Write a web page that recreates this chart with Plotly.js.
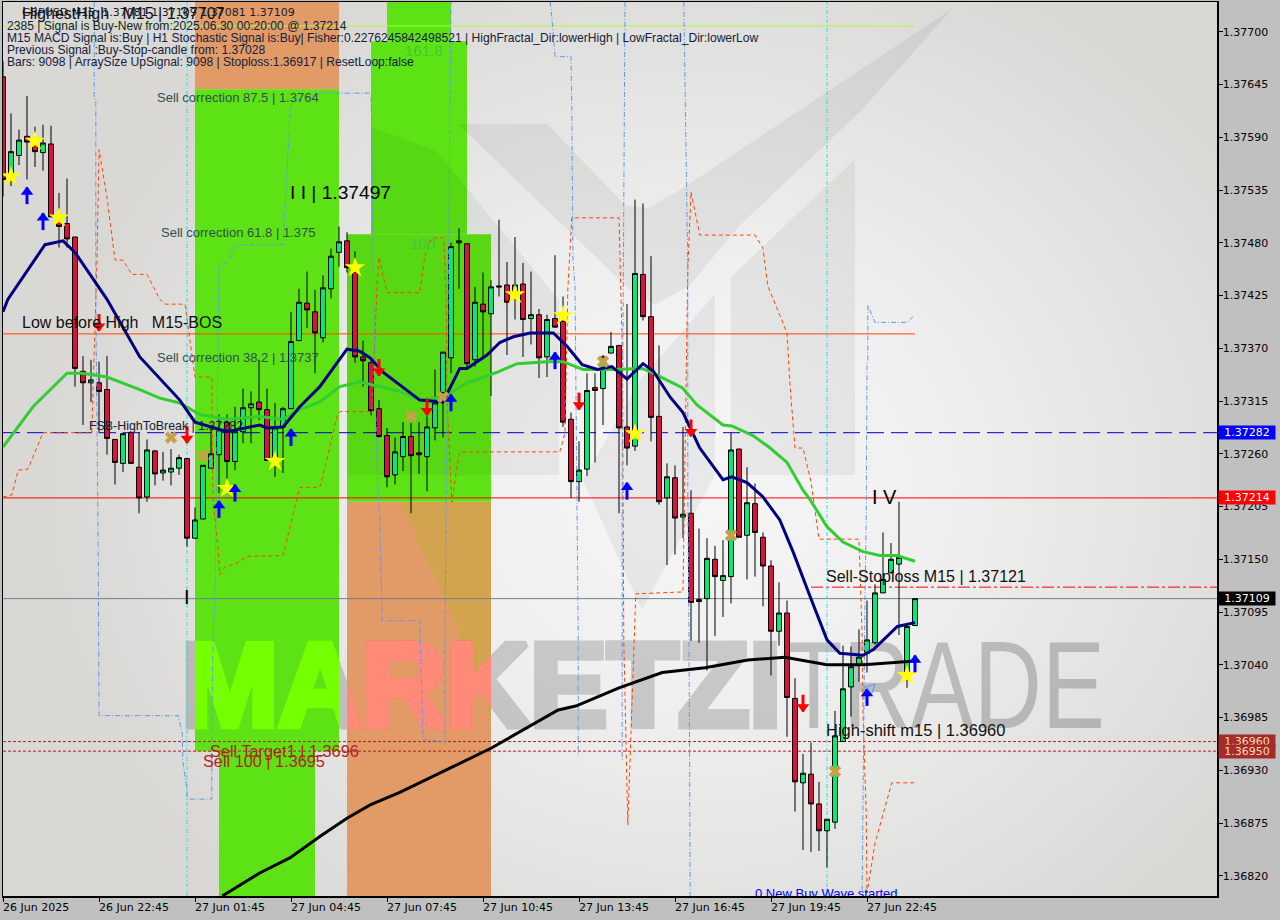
<!DOCTYPE html>
<html><head><meta charset="utf-8">
<script src="https://cdn.plot.ly/plotly-3.0.1.min.js"></script>
<style>
html,body{margin:0;padding:0;background:#C0C0C0;overflow:hidden}
#bg{position:absolute;left:3px;top:2px;width:1214px;height:894px;background:radial-gradient(ellipse 640px 560px at 690px 480px,#F6F6F6 0%,#EFEFEF 40%,#E2E2E0 75%,#D9D8D5 100%)}
#chart{position:absolute;left:0;top:0;width:1280px;height:920px}
</style></head><body><div id="bg"></div><div id="chart"></div>
<script>
// ---------- candles ----------
const open=[1.37653,1.37549,1.37571,1.37591,1.37582,1.37574,1.37583,1.37507,1.37500,1.37486,1.37346,1.37334,1.37334,1.37327,1.37275,1.37250,1.37282,1.37246,1.37215,1.37263,1.37240,1.37241,1.37245,1.37255,1.37172,1.37192,1.37245,1.37259,1.37293,1.37252,1.37283,1.37308,1.37314,1.37306,1.37257,1.37288,1.37307,1.37378,1.37417,1.37408,1.37381,1.37432,1.37470,1.37482,1.37449,1.37361,1.37355,1.37307,1.37279,1.37238,1.37257,1.37278,1.37261,1.37257,1.37287,1.37324,1.37360,1.37480,1.37479,1.37358,1.37416,1.37406,1.37435,1.37436,1.37426,1.37437,1.37401,1.37405,1.37361,1.37401,1.37398,1.37296,1.37231,1.37244,1.37329,1.37328,1.37365,1.37373,1.37288,1.37268,1.37447,1.37403,1.37299,1.37214,1.37235,1.37194,1.37198,1.37108,1.37109,1.37150,1.37128,1.37132,1.37265,1.37175,1.37208,1.37173,1.37143,1.37075,1.37094,1.37005,1.36917,1.36926,1.36895,1.36867,1.36876,1.36960,1.37017,1.37040,1.37052,1.37063,1.37115,1.37136,1.37145,1.37027,1.37081];
const high=[1.37669,1.37615,1.37598,1.37633,1.37601,1.37603,1.37602,1.37532,1.37547,1.37486,1.37362,1.37358,1.37356,1.37362,1.37275,1.37282,1.37282,1.37282,1.37275,1.37264,1.37262,1.37265,1.37259,1.37255,1.37204,1.37248,1.37285,1.37301,1.37301,1.37309,1.37328,1.37325,1.37358,1.37328,1.37313,1.37309,1.37408,1.37432,1.37450,1.37431,1.37446,1.37474,1.37497,1.37491,1.37471,1.37378,1.37358,1.37316,1.37287,1.37277,1.37293,1.37292,1.37293,1.37299,1.37348,1.37366,1.37480,1.37495,1.37479,1.37434,1.37449,1.37441,1.37504,1.37460,1.37486,1.37459,1.37450,1.37411,1.37405,1.37467,1.37424,1.37303,1.37273,1.37344,1.37344,1.37363,1.37387,1.37373,1.37416,1.37525,1.37521,1.37466,1.37373,1.37250,1.37248,1.37288,1.37222,1.37182,1.37172,1.37164,1.37170,1.37282,1.37265,1.37246,1.37229,1.37178,1.37149,1.37126,1.37107,1.37026,1.36947,1.36959,1.36918,1.36879,1.36992,1.37060,1.37059,1.37077,1.37107,1.37124,1.37178,1.37167,1.37210,1.37080,1.37109];
const low=[1.37528,1.37539,1.37561,1.37546,1.37559,1.37555,1.37507,1.37475,1.37475,1.37330,1.37290,1.37314,1.37282,1.37259,1.37228,1.37241,1.37250,1.37198,1.37210,1.37227,1.37232,1.37227,1.37238,1.37163,1.37172,1.37192,1.37245,1.37219,1.37233,1.37243,1.37271,1.37271,1.37295,1.37253,1.37236,1.37240,1.37307,1.37378,1.37391,1.37344,1.37376,1.37422,1.37455,1.37449,1.37355,1.37330,1.37300,1.37277,1.37225,1.37228,1.37242,1.37198,1.37239,1.37221,1.37274,1.37277,1.37344,1.37432,1.37348,1.37351,1.37360,1.37320,1.37424,1.37363,1.37400,1.37361,1.37374,1.37339,1.37340,1.37392,1.37288,1.37214,1.37210,1.37237,1.37251,1.37290,1.37365,1.37198,1.37248,1.37263,1.37399,1.37273,1.37207,1.37144,1.37155,1.37172,1.37065,1.37063,1.37034,1.37070,1.37090,1.37104,1.37173,1.37129,1.37132,1.37101,1.37029,1.37060,1.36965,1.36887,1.36847,1.36845,1.36846,1.36829,1.36869,1.36960,1.36986,1.37022,1.37032,1.37061,1.37115,1.37135,1.37071,1.37016,1.37081];
const close=[1.37546,1.37575,1.37587,1.37585,1.37575,1.37584,1.37507,1.37497,1.37484,1.37349,1.37334,1.37337,1.37325,1.37276,1.37251,1.37281,1.37250,1.37214,1.37264,1.37239,1.37243,1.37245,1.37256,1.37172,1.37191,1.37248,1.37260,1.37285,1.37252,1.37283,1.37308,1.37312,1.37306,1.37253,1.37287,1.37307,1.37377,1.37418,1.37410,1.37386,1.37433,1.37466,1.37481,1.37454,1.37361,1.37357,1.37305,1.37278,1.37236,1.37262,1.37278,1.37258,1.37259,1.37288,1.37313,1.37366,1.37476,1.37482,1.37354,1.37418,1.37408,1.37434,1.37434,1.37418,1.37436,1.37400,1.37405,1.37360,1.37400,1.37392,1.37293,1.37231,1.37243,1.37326,1.37326,1.37361,1.37372,1.37287,1.37266,1.37448,1.37403,1.37298,1.37210,1.37236,1.37193,1.37197,1.37105,1.37106,1.37151,1.37132,1.37133,1.37264,1.37173,1.37209,1.37178,1.37143,1.37075,1.37094,1.37006,1.36918,1.36927,1.36895,1.36867,1.36879,1.36966,1.37015,1.37038,1.37048,1.37066,1.37115,1.37129,1.37150,1.37152,1.37080,1.37109];
// ---------- moving averages ----------
const navyX=[0,0.6,5.25,7.5,9,13,17.1,22.1,24,28,32.1,33,35,37.1,39.6,43,44.6,45.9,47.5,49.6,52.1,55,57.1,58,60.5,62.1,63.8,65.9,68.8,70.5,72.4,74.3,76.1,78,80,81.3,83.4,85,87.1,90,91.1,93,95,97.1,98.8,100.9,103,104.6,107.5,108.8,111.8,114];
const navyY=[1.37408,1.37421,1.37478,1.37482,1.37470,1.37421,1.37361,1.37316,1.37293,1.37283,1.37290,1.37287,1.37288,1.37309,1.37330,1.37369,1.37367,1.37360,1.37345,1.37332,1.37316,1.37314,1.37349,1.37349,1.37363,1.37376,1.37382,1.37386,1.37386,1.37372,1.37353,1.37348,1.37351,1.37338,1.37354,1.37346,1.37319,1.37303,1.37266,1.37233,1.37236,1.37230,1.37215,1.37191,1.37157,1.37111,1.37066,1.37052,1.37050,1.37056,1.37080,1.37084];
const greenX=[0,3.75,8,10,13,17.1,19.6,22.1,24.6,28,32.1,35,37.1,39.6,42.1,44.6,49.6,52.1,55,58,61.75,64.25,68,70,72.5,76.25,79.9,81.25,84.9,86.75,90,91.1,93.75,95.9,98,100,100.9,103,105,107.5,109.6,111.75,114];
const greenY=[1.37267,1.37309,1.37344,1.37344,1.37340,1.37327,1.37318,1.37313,1.37301,1.37296,1.37299,1.37296,1.37306,1.37314,1.37330,1.37335,1.37325,1.37316,1.37319,1.37334,1.37345,1.37354,1.37356,1.37356,1.37348,1.37348,1.37349,1.37344,1.37329,1.37311,1.37290,1.37289,1.37279,1.37266,1.37251,1.37222,1.37212,1.37184,1.37168,1.37158,1.37154,1.37154,1.37148];
const blackX=[27.4,32.1,35.9,39.6,43,45.9,49.6,54.6,61,69.4,71.6,77,82.4,87.75,93.1,97.75,103,107.6,114];
const blackY=[1.36799,1.36823,1.36839,1.36861,1.36880,1.36894,1.36907,1.36927,1.36953,1.36993,1.36997,1.37016,1.37032,1.37037,1.37045,1.37048,1.37040,1.37040,1.37044];
// ---------- dashed envelopes ----------
const orangeX=[0,1.1,1.9,3.1,5,11.1,11.75,12,13,14,15,16.1,18,19.6,20.25,22.75,24,26.1,26.25,26.9,27.1,27.75,29.25,30.5,35,36.75,37.1,39.6,40.25,41.75,42.1,46.1,46.5,46.75,47,48,52.1,52.75,53.6,55.1,55.4,55.5,55.9,56.1,56.75,57.1,69.6,70.25,70.6,71.1,77,77.1,77.4,77.5,77.6,78.1,78.6,79.1,85,85.6,86,87.1,94,95,95.6,98,98.4,99,100,101,102,107,107.4,107.5,107.9,108,109,110.5,111.1,114];
const orangeY=[1.37215,1.37217,1.37243,1.37244,1.37282,1.37282,1.37462,1.37577,1.37527,1.37462,1.37462,1.37447,1.37447,1.37421,1.37416,1.37416,1.37340,1.37340,1.37212,1.37160,1.37134,1.37142,1.37146,1.37153,1.37154,1.37215,1.37225,1.37225,1.37246,1.37299,1.37304,1.37304,1.37386,1.37434,1.37465,1.37428,1.37428,1.37467,1.37485,1.37485,1.37421,1.37316,1.37246,1.37209,1.37246,1.37262,1.37262,1.37282,1.37431,1.37506,1.37506,1.37467,1.37372,1.37236,1.37066,1.36873,1.37003,1.37114,1.37116,1.37452,1.37533,1.37488,1.37488,1.37474,1.37435,1.37386,1.37329,1.37266,1.37266,1.37231,1.37171,1.37171,1.37069,1.36990,1.36886,1.36802,1.36854,1.36899,1.36917,1.36917];
const blueX=[11.4,11.4,11.6,11.6,11.9,12,12,21.9,22.4,22.5,23,23,26.1,26.1,26.25,26.5,26.9,27,28.1,29,35,35.5,35.9,36.1,39.6,46,46.1,46.25,46.75,47.1,47.4,52.1,52.5,55.25,55.25,55.4,55.75,56,null,68.4,68.6,69,71,71.1,71.25,71.5,71.9,71.9,null,77.75,77.6,77.4,77.4,null,85.1,85.4,85.6,85.6,85.75,85.9,null,107.4,107.6,107.75,107.9,108,108.1,108.1,109,113,113.75];
const blueY=[1.37731,1.37632,1.37629,1.37421,1.37163,1.37063,1.36987,1.36987,1.36969,1.36938,1.36910,1.36900,1.36900,1.36962,1.37066,1.37110,1.37421,1.37457,1.37459,1.37478,1.37478,1.37559,1.37616,1.37626,1.37636,1.37636,1.37601,1.37462,1.37246,1.37191,1.37086,1.37086,1.36962,1.36960,1.37066,1.37212,1.37525,1.37731,null,1.37731,1.37716,1.37674,1.37674,1.37622,1.37462,1.37434,1.37069,1.36945,null,1.37731,1.37525,1.37246,1.36941,null,1.37731,1.37563,1.37452,1.37223,1.37069,1.36799,null,1.36805,1.37024,1.37111,1.37191,1.37353,1.37358,1.37415,1.37397,1.37397,1.37403];
// ---------- signal markers ----------
const starX=[1,4,7,28,34,44,64,70,79,113];
const starY=[1.37549,1.37586,1.37506,1.37224,1.37252,1.37454,1.37426,1.37404,1.37281,1.37029];
const upX=[3,5,27,29,36,56,69,78,108,114];
const upY=[1.37529,1.37502,1.37202,1.37219,1.37277,1.37313,1.37357,1.37221,1.37006,1.37041];
const downX=[12,23,47,53,72,86,100];
const downY=[1.37397,1.37280,1.37350,1.37309,1.37315,1.37287,1.37000];
const crossX=[21,25,51,55,75,91,104];
const crossY=[1.37277,1.37258,1.37299,1.37319,1.37356,1.37175,1.36929];
// ---------- axis labels ----------
const yTicks=[1.37700,1.37645,1.37590,1.37535,1.37480,1.37425,1.37370,1.37315,1.37260,1.37205,1.37150,1.37095,1.37040,1.36985,1.36930,1.36875,1.36820];
const xTicks=[0,12,24,36,48,60,72,84,96,108];
const xLabels=["26 Jun 2025","26 Jun 22:45","27 Jun 01:45","27 Jun 04:45","27 Jun 07:45","27 Jun 10:45","27 Jun 13:45","27 Jun 16:45","27 Jun 19:45","27 Jun 22:45"];
// ---------- levels ----------
const priceTags=[["1.37282",1.37282,"#0000FF","#FFFFFF"],["1.37214",1.37214,"#FF0000","#FFFFFF"],["1.37109",1.37109,"#000000","#FFFFFF"],["1.36960",1.36960,"#A52A2A","#F5DEB3"],["1.36950",1.36950,"#A52A2A","#F5DEB3"]];
const levels=[[1.37706,0,114,"#ADFF2F","solid",1],[1.37385,0,114,"#FF4500","solid",1],[1.37282,0,151.75,"#0000CD","17px,7px",1],[1.37214,0,151.75,"#FF0000","solid",1],[1.37121,101,151.75,"#FF0000","12px,3px,3px,3px",1],[1.37109,0,151.75,"#708090","solid",1],[1.36960,0,151.75,"#B22222","3px,2px",1],[1.36950,0,151.75,"#B22222","3px,2px",1]];
const cyanX=[23,103];
const bands=[[24,42,1.37640,1.37731,"#E29A66"],[24,42,1.36950,1.37640,"#5DE315"],[27,39,1.36799,1.36950,"#5DE315"],[43,61,1.36799,1.37210,"#E29A66"],[43,61,1.37210,1.37489,"#5DE315"],[46,58,1.37489,1.37690,"#5DE315"],[48,56,1.37690,1.37731,"#5DE315"]];
// ---------- text ----------
const labels=[
["GBPUSD,M15  1.37081 1.37109 1.37081 1.37109",20,13,11,"#1a1a2e","DejaVu Sans"],
["HighestHigh   M15 | 1.37707",20,14,16,"#111111","Liberation Sans"],
["2385 | Signal is Buy-New from:2025.06.30 00:20:00 @ 1.37214",5,26,12.1,"#14203c","Liberation Sans"],
["M15 MACD Signal is:Buy | H1 Stochastic Signal is:Buy| Fisher:0.2276245842498521 | HighFractal_Dir:lowerHigh | LowFractal_Dir:lowerLow",5,38,12.1,"#14203c","Liberation Sans"],
["Previous Signal :Buy-Stop-candle from: 1.37028",5,50,12.1,"#14203c","Liberation Sans"],
["Bars: 9098 | ArraySize UpSignal: 9098 | Stoploss:1.36917 | ResetLoop:false",5,62,12.1,"#14203c","Liberation Sans"],
["161.8",403,50,15,"#3CC83C","Liberation Sans"],
["Sell correction 87.5 | 1.3764",155,98,13,"#2F4F4F","Liberation Sans"],
["I I | 1.37497",288,192,19.2,"#000000","Liberation Sans"],
["Sell correction 61.8 | 1.375",159,232,13,"#2F4F4F","Liberation Sans"],
["100",408,243,15,"#3CC83C","Liberation Sans"],
["Low before High   M15-BOS",20,322,16,"#111111","Liberation Sans"],
["Sell correction 38.2 | 1.3737",155,357,13,"#2F4F4F","Liberation Sans"],
["FSB-HighToBreak | 1.37282",87,426,12.4,"#14203c","Liberation Sans"],
["I V",870,497,20,"#000000","Liberation Sans"],
["Sell-Stoploss M15 | 1.37121",824,576,16,"#111111","Liberation Sans"],
["I",182,597,20,"#000000","Liberation Sans"],
["High-shift m15 | 1.36960",824,730,16.5,"#111111","Liberation Sans"],
["Sell Target1 | 1.3696",208,751,16.3,"#B22222","Liberation Sans"],
["Sell 100 | 1.3695",201,761,16.3,"#B22222","Liberation Sans"]
];
// ---------- pixel helpers for decoration only ----------
const W=1214,H=894,PXL=3,PXT=2;
const yTop=1.37731,yBot=1.36799,xLeft=0,xRight=151.75;
const px2x=p=>(p-PXL)/8, py2y=p=>yTop-(p-PXT)/H*(yTop-yBot);
const logo=[
[[[458,124],[547,124],[625,205],[648,208],[680,190],[953,8],[860,112],[740,225],[690,285],[655,305],[630,290]],'rgba(0,0,0,0.055)'],
[[[855,159],[855,475],[731,475],[731,277]],'rgba(0,0,0,0.05)'],
[[[715,294],[715,475],[642,610],[583,480],[640,380]],'rgba(0,0,0,0.05)'],
[[[371,127],[436,151],[559,300],[559,475],[347,475],[347,234],[371,234]],'rgba(0,0,0,0.05)'],
[[[400,502],[491,502],[491,720],[450,610]],'rgba(170,190,20,0.28)']
];
const shapes=[];
bands.forEach(b=>shapes.push({type:'rect',xref:'x',yref:'y',x0:b[0],x1:b[1],y0:b[2],y1:b[3],fillcolor:b[4],line:{width:0},layer:'below'}));
logo.forEach(l=>shapes.push({type:'path',xref:'x',yref:'y',layer:'below',line:{width:0},fillcolor:l[1],
  path:'M'+l[0].map(p=>px2x(p[0])+','+py2y(p[1])).join('L')+'Z'}));
levels.forEach(l=>shapes.push({type:'line',xref:'x4',yref:'y4',x0:l[1],x1:l[2],y0:l[0],y1:l[0],line:{color:l[3],dash:l[4],width:l[5]},layer:'below'}));
cyanX.forEach(c=>shapes.push({type:'line',xref:'x4',yref:'y4',x0:c,x1:c,y0:yBot,y1:yTop,line:{color:'#20E0E8',dash:'4px,2px,1px,2px',width:1},layer:'below'}));

const annotations=[];
labels.forEach(l=>annotations.push({text:l[0],xref:'paper',yref:'paper',x:(l[1]-PXL)/W,y:1-(l[2]-PXT)/H,xanchor:'left',yanchor:'middle',showarrow:false,align:'left',font:{size:l[3],color:l[4],family:l[5]}}));
xLabels.forEach((t,i)=>annotations.push({text:t,xref:'x4',yref:'paper',x:xTicks[i],y:0,yshift:-11,xanchor:'left',yanchor:'middle',showarrow:false,xshift:-2,font:{size:11,color:'#000',family:'DejaVu Sans'}}));
priceTags.forEach(p=>annotations.push({text:p[0],xref:'paper',yref:'y4',x:1,xshift:1,y:p[1],xanchor:'left',yanchor:'middle',showarrow:false,bgcolor:p[2],width:56,height:13,borderpad:0,align:'center',font:{size:11,color:p[3],family:'DejaVu Sans'}}));

const wmY=[1.37007];
const wmB='<b>MARKETZI</b>';
const wmFont={size:118,family:'Liberation Sans'};
const headUp=upY.map(v=>v+0.00004), headDn=downY.map(v=>v-0.00004);
const traces=[
 {type:'scatter',mode:'text',x:[59.8],y:wmY,text:[wmB],xaxis:'x',yaxis:'y',textposition:'middle center',textfont:{...wmFont,color:'#000'},hoverinfo:'skip'},
 {type:'scatter',mode:'text',x:[117.75],y:wmY,text:['TRADE'],xaxis:'x',yaxis:'y',textposition:'middle center',textfont:{size:125,family:'Liberation Sans',color:'rgba(0,0,0,0.2)'},hoverinfo:'skip'},
 {type:'scatter',mode:'text',x:[59.8],y:wmY,text:[wmB],xaxis:'x2',yaxis:'y2',textposition:'middle center',textfont:{...wmFont,color:'#76FF00'},hoverinfo:'skip'},
 {type:'scatter',mode:'text',x:[59.8],y:wmY,text:[wmB],xaxis:'x3',yaxis:'y3',textposition:'middle center',textfont:{...wmFont,color:'#FF8A78'},hoverinfo:'skip'},
 {type:'candlestick',x:open.map((_,i)=>i),open,high,low,close,xaxis:'x4',yaxis:'y4',whiskerwidth:0,
  increasing:{line:{color:'#000',width:1},fillcolor:'#00EE76'},decreasing:{line:{color:'#000',width:1},fillcolor:'#DC143C'},hoverinfo:'skip'},
 {type:'scatter',mode:'lines',x:orangeX,y:orangeY,xaxis:'x4',yaxis:'y4',line:{color:'#FF4500',width:1,dash:'4px,3px'},hoverinfo:'skip'},
 {type:'scatter',mode:'lines',x:blueX,y:blueY,xaxis:'x4',yaxis:'y4',line:{color:'#6495ED',width:1,dash:'5px,2px,1px,2px'},connectgaps:false,hoverinfo:'skip'},
 {type:'scatter',mode:'lines',x:blackX,y:blackY,xaxis:'x4',yaxis:'y4',line:{color:'#000',width:3},hoverinfo:'skip'},
 {type:'scatter',mode:'lines',x:greenX,y:greenY,xaxis:'x4',yaxis:'y4',line:{color:'#32CD32',width:3},hoverinfo:'skip'},
 {type:'scatter',mode:'lines',x:navyX,y:navyY,xaxis:'x4',yaxis:'y4',line:{color:'#000080',width:3},hoverinfo:'skip'},
 {type:'scatter',mode:'markers',x:crossX,y:crossY,xaxis:'x4',yaxis:'y4',marker:{symbol:'x',size:11,color:'#C8A048',line:{width:0}},hoverinfo:'skip'},
 {type:'scatter',mode:'markers',x:starX,y:starY,xaxis:'x4',yaxis:'y4',marker:{symbol:'star',size:15.5,color:'#FFFF00',line:{width:0}},hoverinfo:'skip'},
 {type:'scatter',mode:'markers',x:upX,y:upY,xaxis:'x4',yaxis:'y4',marker:{symbol:'line-ns',size:12,color:'#0000FF',line:{color:'#0000FF',width:3}},hoverinfo:'skip'},
 {type:'scatter',mode:'markers',x:upX,y:headUp,xaxis:'x4',yaxis:'y4',marker:{symbol:'triangle-up',size:11,color:'#0000FF',line:{width:0}},hoverinfo:'skip'},
 {type:'scatter',mode:'markers',x:downX,y:downY,xaxis:'x4',yaxis:'y4',marker:{symbol:'line-ns',size:12,color:'#FF0000',line:{color:'#FF0000',width:3}},hoverinfo:'skip'},
 {type:'scatter',mode:'markers',x:downX,y:headDn,xaxis:'x4',yaxis:'y4',marker:{symbol:'triangle-down',size:11,color:'#FF0000',line:{width:0}},hoverinfo:'skip'},
 {type:'scatter',mode:'markers',x:[109],y:[1.37020],xaxis:'x4',yaxis:'y4',marker:{symbol:'arrow-up-open',size:9,angle:45,color:'#6495ED',line:{color:'#6495ED',width:1}},hoverinfo:'skip'},
 {type:'scatter',mode:'text',x:[94],y:[1.36800],text:['0 New Buy Wave started'],xaxis:'x4',yaxis:'y4',textposition:'middle right',textfont:{size:13,color:'#0000FF',family:'Liberation Sans'},hoverinfo:'skip'}
];
const hiddenAxis=(extra)=>Object.assign({visible:false,fixedrange:true},extra);
const layout={
 width:1280,height:920,margin:{l:3,r:63,t:2,b:24,pad:0},showlegend:false,
 paper_bgcolor:'rgba(0,0,0,0)',plot_bgcolor:'rgba(0,0,0,0)',boxgap:0.12,
 xaxis:hiddenAxis({range:[xLeft,xRight],domain:[0,1],anchor:'y'}),
 yaxis:hiddenAxis({range:[yBot,yTop],domain:[0,1],anchor:'x'}),
 xaxis2:hiddenAxis({range:[24,42],domain:[192/W,336/W],anchor:'y2'}),
 yaxis2:hiddenAxis({range:[yBot,yTop],domain:[0,1],anchor:'x2'}),
 xaxis3:hiddenAxis({range:[43,61],domain:[344/W,488/W],anchor:'y3'}),
 yaxis3:hiddenAxis({range:[yBot,yTop],domain:[0,1],anchor:'x3'}),
 xaxis4:{range:[xLeft,xRight],domain:[0,1],anchor:'y4',tickmode:'array',tickvals:xTicks,ticktext:xTicks.map(()=>''),ticks:'outside',ticklen:4,tickcolor:'#000',showgrid:false,zeroline:false,showline:true,linecolor:'#000',linewidth:1.5,mirror:true,rangeslider:{visible:false}},
 yaxis4:{range:[yBot,yTop],domain:[0,1],anchor:'x4',side:'right',tickmode:'array',tickvals:yTicks,ticktext:yTicks.map(v=>v.toFixed(5)),ticks:'outside',ticklen:4,ticklabelstandoff:-2,tickcolor:'#000',showgrid:false,zeroline:false,showline:true,linecolor:'#000',linewidth:1.5,mirror:true,tickfont:{size:11,color:'#000',family:'DejaVu Sans'}},
 shapes,annotations
};
Plotly.newPlot('chart',traces,layout,{staticPlot:true,displayModeBar:false}).then(gd=>{
 gd.querySelectorAll('.textpoint text').forEach(t=>{
   const s=t.textContent;
   if(s==='MARKETZI'){
     t.setAttribute('textLength','600');t.setAttribute('lengthAdjust','spacingAndGlyphs');
     const fill=t.style.fill||'#000';
     t.style.stroke=fill;t.style.strokeWidth='7px';t.style.strokeLinejoin='miter';
     if(fill==='rgb(0, 0, 0)'||fill==='#000'){t.style.opacity='0.16';}
   }
   if(s==='TRADE'){t.setAttribute('textLength','320');t.setAttribute('lengthAdjust','spacingAndGlyphs');}
 });
});
</script></body></html>
